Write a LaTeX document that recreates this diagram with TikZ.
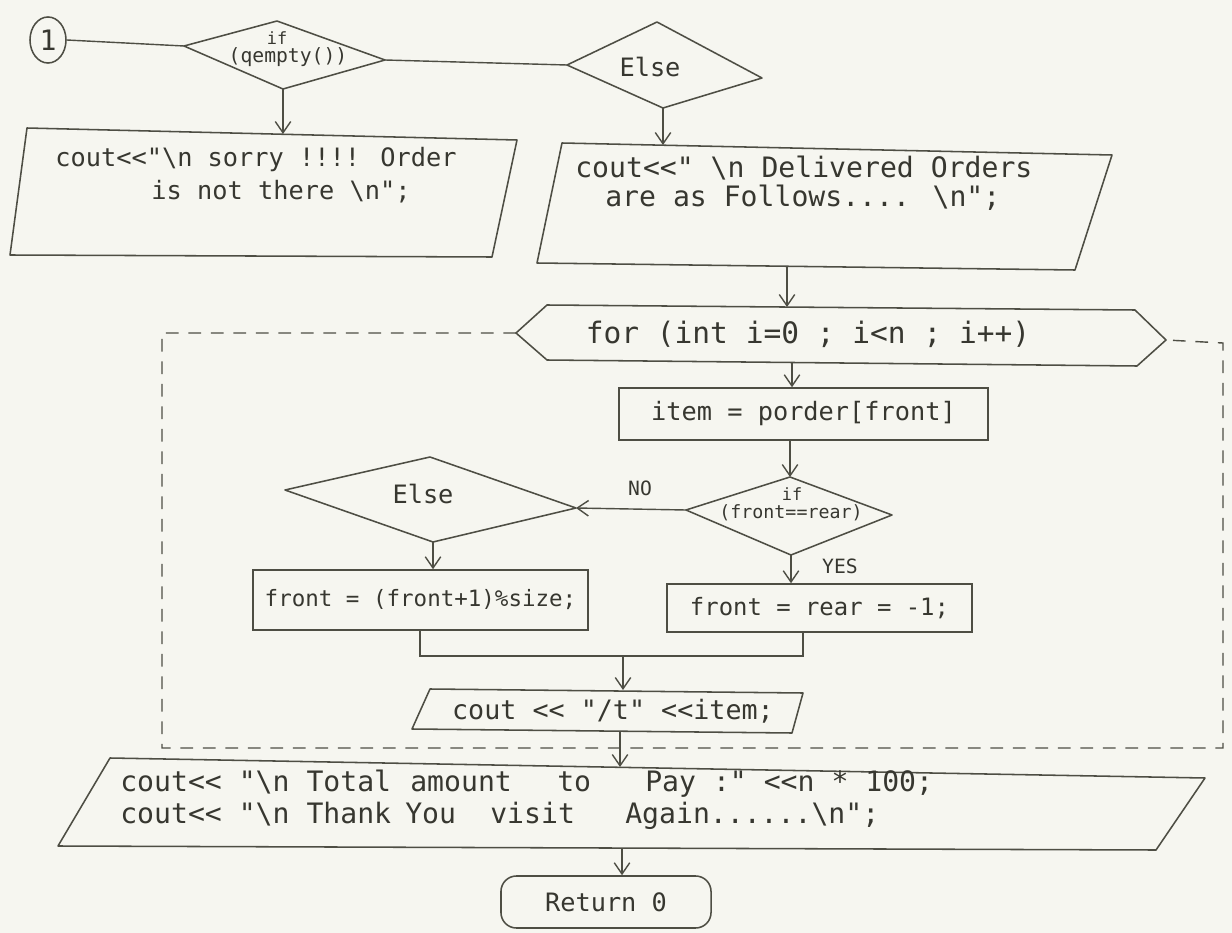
\documentclass[tikz,border=0pt]{standalone}
\usepackage{fontspec}
\setmainfont{DejaVu Sans Mono}[Ligatures=TeXOff]
\usetikzlibrary{arrows.meta,shapes.geometric}
\definecolor{pencil}{RGB}{78,78,68}
\definecolor{ink}{RGB}{55,55,48}
\definecolor{paper}{RGB}{246,246,240}
\begin{document}
\begin{tikzpicture}[x=0.025cm,y=-0.025cm,
  shapeline/.style={draw=pencil, line width=1.1pt, line join=round},
  conn/.style={draw=pencil, line width=1pt},
  arr/.style={conn, -{Straight Barb[length=8pt,width=11pt]}},
  loopline/.style={draw=pencil, line width=1pt, dash pattern=on 9pt off 7pt},
  txt/.style={text=ink, font=\fontsize{18}{20}\selectfont, inner sep=0pt},
  small/.style={text=ink, font=\fontsize{12}{13}\selectfont, inner sep=0pt}]
\fill[paper] (0,0) rectangle (1232,933);
\useasboundingbox (0,0) rectangle (1232,933);

% start circle
\node (n1) [draw=pencil, line width=1.1pt, ellipse, minimum width=0.9cm, minimum height=1.15cm, text=ink, font=\fontsize{20}{22}\selectfont, inner sep=0pt] at (48,40) {1};

% decision: if qempty
\coordinate (d1L) at (184,46); \coordinate (d1T) at (277,21);
\coordinate (d1R) at (385,60); \coordinate (d1B) at (283,89);
\draw[shapeline] (d1L)--(d1T)--(d1R)--(d1B)--cycle;
\node[small] (d1if) at (277,38) {if};
\node[small, font=\fontsize{14}{15}\selectfont] (d1c) at (288,57) {(qempty())};

% decision: else
\coordinate (d2L) at (567,65); \coordinate (d2T) at (657,22);
\coordinate (d2R) at (762,78); \coordinate (d2B) at (663,108);
\draw[shapeline] (d2L)--(d2T)--(d2R)--(d2B)--cycle;
\node[txt] (d2t) at (650,67) {Else};

% output box 1
\coordinate (b1a) at (27,128); \coordinate (b1b) at (517,140);
\coordinate (b1c) at (492,257); \coordinate (b1d) at (10,255);
\coordinate (b1T) at (283,134);
\draw[shapeline] (b1a)--(b1b)--(b1c)--(b1d)--cycle;
\node[txt] (b1l1) at (256,160) {cout<<"\textbackslash n sorry !!!! Order};
\node[txt] (b1l2) at (281,192) {is not there \textbackslash n";};

% output box 2
\coordinate (b2a) at (562,143); \coordinate (b2b) at (1112,155);
\coordinate (b2c) at (1075,270); \coordinate (b2d) at (537,263);
\coordinate (b2T) at (663,145); \coordinate (b2B) at (787,266);
\draw[shapeline] (b2a)--(b2b)--(b2c)--(b2d)--cycle;
\node[txt, font=\fontsize{20}{22}\selectfont, anchor=west] (b2l1) at (575,168) {cout<<" \textbackslash n Delivered Orders};
\node[txt, font=\fontsize{20}{22}\selectfont, anchor=west] (b2l2) at (605,198) {are as Follows.... \textbackslash n";};

% for loop hexagon
\coordinate (hL) at (516,333); \coordinate (hTL) at (547,305);
\coordinate (hTR) at (1135,310); \coordinate (hR) at (1166,340);
\coordinate (hBR) at (1137,366); \coordinate (hBL) at (547,360);
\coordinate (hT) at (787,307); \coordinate (hB) at (792,363);
\draw[shapeline] (hL)--(hTL)--(hTR)--(hR)--(hBR)--(hBL)--cycle;
\node[txt, font=\fontsize{21}{22}\selectfont] (ht) at (808,334) {for (int i=0 ; i<n ; i++)};

% item box
\node (item) [draw=pencil, line width=1.1pt, minimum width=9.225cm, minimum height=1.3cm, text=ink, font=\fontsize{18}{20}\selectfont, inner sep=0pt] at (803.5,414) {item = porder[front]};

% if front==rear
\coordinate (d3L) at (686,510); \coordinate (d3T) at (790,477);
\coordinate (d3R) at (892,515); \coordinate (d3B) at (791,555);
\draw[shapeline] (d3L)--(d3T)--(d3R)--(d3B)--cycle;
\node[small] (d3if) at (792,494) {if};
\node[small, font=\fontsize{13}{14}\selectfont] (d3c) at (791,513) {(front==rear)};
\node[small, font=\fontsize{14}{15}\selectfont] (no) at (640,488) {NO};
\node[small, font=\fontsize{14}{15}\selectfont] (yes) at (840,566) {YES};

% else 2
\coordinate (d4L) at (285,490); \coordinate (d4T) at (430,457);
\coordinate (d4R) at (576,508); \coordinate (d4B) at (433,542);
\draw[shapeline] (d4L)--(d4T)--(d4R)--(d4B)--cycle;
\node[txt] (d4t) at (423,494) {Else};

% front boxes
\node (fb) [draw=pencil, line width=1.1pt, minimum width=8.375cm, minimum height=1.5cm, text=ink, font=\fontsize{16}{20}\selectfont, inner sep=0pt] at (420.5,600) {front = (front+1)\%size;};
\node (fr) [draw=pencil, line width=1.1pt, minimum width=7.625cm, minimum height=1.2cm, text=ink, font=\fontsize{17}{20}\selectfont, inner sep=0pt] at (819.5,608) {front = rear = -1;};

% merge
\coordinate (fbB) at (420,630); \coordinate (frB) at (803,632);
\coordinate (m1) at (420,656); \coordinate (m2) at (803,656); \coordinate (mm) at (623,656);

% cout item box
\coordinate (c1a) at (430,689); \coordinate (c1b) at (803,693);
\coordinate (c1c) at (792,733); \coordinate (c1d) at (412,729);
\coordinate (cT) at (623,690); \coordinate (cB) at (620,731);
\draw[shapeline] (c1a)--(c1b)--(c1c)--(c1d)--cycle;
\node[txt, font=\fontsize{19}{20}\selectfont] (ct) at (613,711) {cout << "/t" <<item;};

% final output box
\coordinate (g1a) at (110,758); \coordinate (g1b) at (1205,778);
\coordinate (g1c) at (1156,850); \coordinate (g1d) at (58,846);
\coordinate (gT) at (620,767); \coordinate (gB) at (622,848);
\draw[shapeline] (g1a)--(g1b)--(g1c)--(g1d)--cycle;
\begin{scope}[every node/.style={txt, font=\fontsize{20}{22}\selectfont, anchor=base west}]
\node (ga1) at (120,791) {cout<< "\textbackslash n Total};
\node (ga2) at (410,791) {amount};
\node (ga3) at (557,791) {to};
\node (ga4) at (645,791) {Pay :" <<n * 100;};
\node (gb1) at (120,823) {cout<< "\textbackslash n Thank};
\node (gb2) at (405,823) {You};
\node (gb3) at (490,823) {visit};
\node (gb4) at (625,823) {Again......\textbackslash n";};
\end{scope}

% return
\node (ret) [draw=pencil, line width=1.1pt, rounded corners=11pt, minimum width=5.25cm, minimum height=1.3cm, text=ink, font=\fontsize{18}{20}\selectfont, inner sep=0pt] at (606,902) {Return 0};

% connectors
\draw[conn] (n1.east) -- (d1L);
\draw[conn] (d1R) -- (d2L);
\draw[arr] (d1B) -- (b1T);
\draw[arr] (d2B) -- (b2T);
\draw[arr] (b2B) -- (hT);
\draw[arr] (hB) -- (hB |- item.north);
\draw[arr] (item.south -| d3T) -- (d3T);
\draw[arr] (d3L) -- (d4R);
\draw[arr] (d3B) -- (d3B |- fr.north);
\draw[arr] (d4B) -- (d4B |- fb.north);
\draw[conn] (fbB) -- (m1) -- (m2) -- (frB);
\draw[arr] (mm) -- (cT);
\draw[arr] (cB) -- (gT);
\draw[arr] (gB) -- (gB |- ret.north);

% loop back (dashed)
\draw[loopline] (hL) -- (162,333) -- (162,748) -- (1223,748) -- (1223,343) -- (hR);
\end{tikzpicture}
\end{document}
